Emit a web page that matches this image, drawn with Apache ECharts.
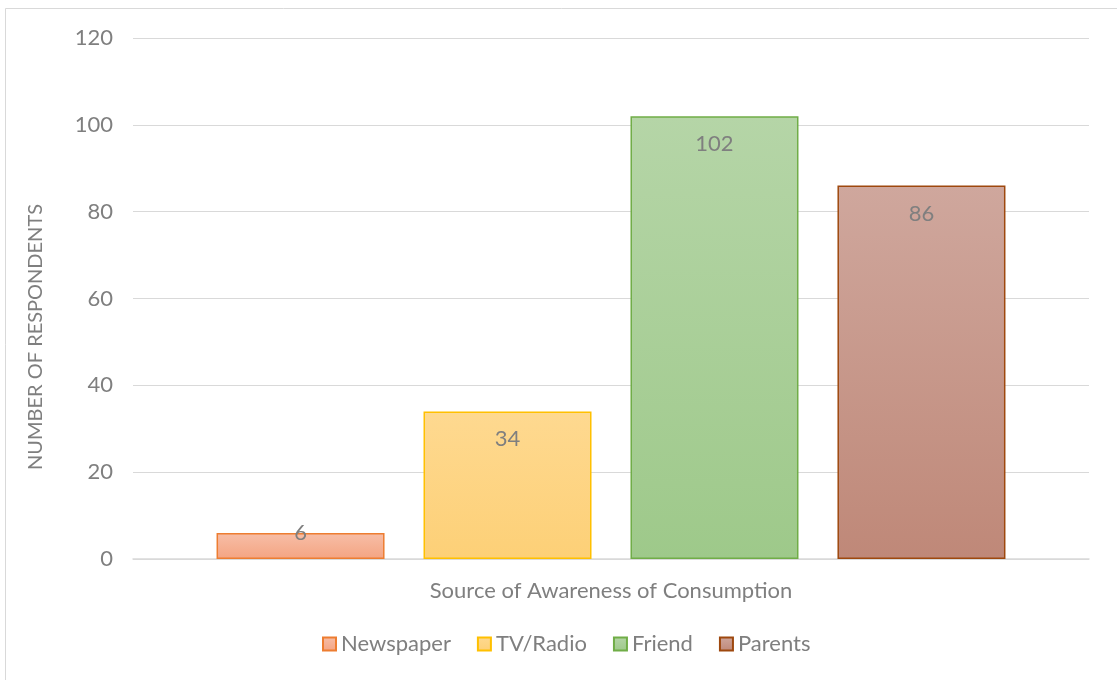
<!DOCTYPE html>
<html>
<head>
<meta charset="utf-8">
<script src="https://cdn.jsdelivr.net/npm/echarts@6/dist/echarts.min.js"></script>
<style>
  html, body { margin: 0; padding: 0; background: #fff; }
  #chart { width: 1117px; height: 680px; }
</style>
</head>
<body>
<div id="chart"></div>
<script>
// Survey: how respondents first learned about consumption
const categories = [''];
const seriesNames = ['Newspaper', 'TV/Radio', 'Friend', 'Parents'];
const seriesValues = [6, 34, 102, 86];
const yTicks = { min: 0, max: 120, interval: 20 };
const yTitle = 'NUMBER OF RESPONDENTS';
const xTitle = 'Source of Awareness of Consumption';

const fillTop = ['#f7bea7', '#fed990', '#b5d5a7', '#cfa79d'];
const fillBottom = ['#f4a482', '#fdd077', '#9ec98a', '#bf8878'];
const borders = ['#ed7d31', '#ffc000', '#70ad47', '#9e480e'];

const FONT = 'Lato';
const GREY = '#7f7f7f';

const chart = echarts.init(document.getElementById('chart'));

const series = seriesNames.map((name, i) => ({
  name: name,
  type: 'bar',
  barWidth: 168,
  barGap: '23.2%',
  data: [{
    value: seriesValues[i],
    label: seriesValues[i] < 10 ? { offset: [0, -28] } : {}
  }],
  itemStyle: {
    color: new echarts.graphic.LinearGradient(0, 0, 0, 1, [
      { offset: 0, color: fillTop[i] },
      { offset: 1, color: fillBottom[i] }
    ]),
    borderColor: borders[i],
    borderWidth: 1.5
  },
  label: {
    show: true,
    position: 'insideTop',
    distance: 17,
    color: GREY,
    fontFamily: FONT,
    fontSize: 22
  }
}));

chart.setOption({
  animation: false,
  backgroundColor: '#fff',
  graphic: [{
    type: 'rect',
    shape: { x: 5.5, y: 8.5, width: 1300, height: 900 },
    style: { fill: 'none', stroke: '#d9d9d9', lineWidth: 1 },
    silent: true,
    z: -10
  }, {
    // vertical axis title, centred on the chart body rather than the plot
    type: 'text',
    x: 36,
    y: 337,
    rotation: Math.PI / 2,
    style: {
      text: yTitle,
      fill: GREY,
      font: '20px Lato',
      align: 'center',
      verticalAlign: 'middle'
    },
    silent: true
  }],
  grid: { left: 133, right: 28, top: 38, bottom: 121 },
  legend: {
    data: seriesNames,
    bottom: 20,
    left: 317,
    icon: 'rect',
    itemWidth: 13,
    itemHeight: 13,
    itemGap: 26,
    textStyle: { color: GREY, fontFamily: FONT, fontSize: 22 }
  },
  xAxis: {
    type: 'category',
    data: categories,
    name: xTitle,
    nameLocation: 'middle',
    nameGap: 21,
    nameTextStyle: { color: GREY, fontFamily: FONT, fontSize: 22 },
    axisLine: { lineStyle: { color: '#d9d9d9', width: 1.5 } },
    axisTick: { show: false },
    axisLabel: { show: false }
  },
  yAxis: {
    type: 'value',
    min: yTicks.min,
    max: yTicks.max,
    interval: yTicks.interval,
    axisLine: { show: false },
    axisTick: { show: false },
    axisLabel: { color: GREY, fontFamily: FONT, fontSize: 22, margin: 20 },
    splitLine: { lineStyle: { color: '#d9d9d9', width: 1 } }
  },
  series: series
});
</script>
</body>
</html>
